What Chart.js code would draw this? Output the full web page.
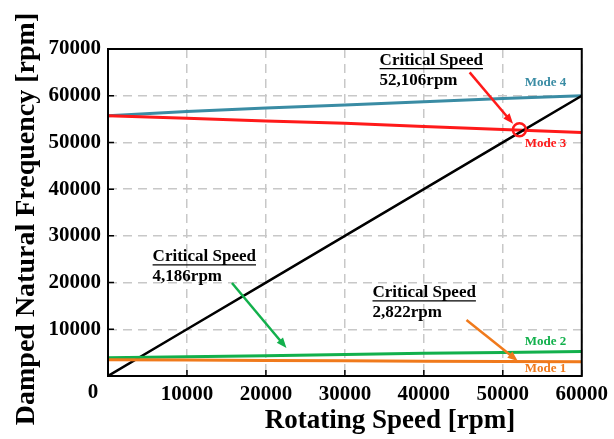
<!DOCTYPE html>
<html lang="en">
<head>
<meta charset="UTF-8">
<title>Campbell Diagram</title>
<script src="https://cdn.jsdelivr.net/npm/chart.js"></script>
<style>
    html, body { margin: 0; padding: 0; background: #fff; }
    #wrap { width: 614px; height: 439px; }
</style>
</head>
<body>
<div id="wrap"><canvas id="campbell" width="614" height="439"></canvas></div>
<script>
    // rotating speed [rpm]
    const speed = [0, 10000, 20000, 30000, 40000, 50000, 60000];
    // 1X excitation line
    const excitation = [0, 10000, 20000, 30000, 40000, 50000, 60000];
    // damped natural frequencies [rpm]
    const mode1 = [3500, 3400, 3300, 3250, 3150, 3100, 3050];
    const mode2 = [3900, 4100, 4350, 4600, 4850, 5050, 5250];
    const mode3 = [55700, 55150, 54600, 54100, 53400, 52750, 52150];
    const mode4 = [55700, 56600, 57350, 58000, 58700, 59400, 60000];

    const xTicks = [0, 10000, 20000, 30000, 40000, 50000, 60000];
    const yTicks = [0, 10000, 20000, 30000, 40000, 50000, 60000, 70000];

    // annotations (data units)
    const critPoint = { x: 52106, y: 52700 };
    const notes = [
        { x: 34400, y: 67500, title: 'Critical Speed', value: '52,106rpm', color: '#ff1a1a',
          from: [45800, 65000], to: [51300, 54000] },
        { x: 5650, y: 25500, title: 'Critical Speed', value: '4,186rpm', color: '#12b04c',
          from: [15700, 19900], to: [22600, 6000] },
        { x: 33500, y: 17800, title: 'Critical Speed', value: '2,822rpm', color: '#f07a1c',
          from: [45400, 12000], to: [51900, 3200] }
    ];
    const modeLabels = [
        { text: 'Mode 4', x: 55400, y: 62900, color: '#3a8ca4' },
        { text: 'Mode 3', x: 55400, y: 49700, color: '#ff1a1a' },
        { text: 'Mode 2', x: 55400, y: 7300, color: '#12b04c' },
        { text: 'Mode 1', x: 55400, y: 1500, color: '#f07a1c' }
    ];

    const toXY = ys => speed.map((s, i) => ({ x: s, y: ys[i] }));
    const serif = "'Liberation Serif', 'Times New Roman', serif";

    function arrow(ctx, x1, y1, x2, y2, color) {
        const a = Math.atan2(y2 - y1, x2 - x1);
        const head = 11;
        ctx.save();
        ctx.strokeStyle = color;
        ctx.fillStyle = color;
        ctx.lineWidth = 2.5;
        ctx.beginPath();
        ctx.moveTo(x1, y1);
        ctx.lineTo(x2 - Math.cos(a) * head * 0.8, y2 - Math.sin(a) * head * 0.8);
        ctx.stroke();
        ctx.beginPath();
        ctx.moveTo(x2, y2);
        ctx.lineTo(x2 - head * Math.cos(a - 0.38), y2 - head * Math.sin(a - 0.38));
        ctx.lineTo(x2 - head * Math.cos(a + 0.38), y2 - head * Math.sin(a + 0.38));
        ctx.closePath();
        ctx.fill();
        ctx.restore();
    }

    const extras = {
        id: 'extras',
        afterDatasetsDraw(chart) {
            const ctx = chart.ctx;
            const xs = chart.scales.x, ys = chart.scales.y;
            const a = chart.chartArea;
            const px = v => xs.getPixelForValue(v);
            const py = v => ys.getPixelForValue(v);

            // frame
            ctx.save();
            ctx.strokeStyle = '#000';
            ctx.lineWidth = 2;
            ctx.strokeRect(a.left, a.top, a.right - a.left, a.bottom - a.top);
            // inward ticks
            ctx.lineWidth = 1.5;
            ctx.beginPath();
            xTicks.forEach(t => { ctx.moveTo(px(t), a.bottom); ctx.lineTo(px(t), a.bottom - 6); });
            yTicks.forEach(t => { ctx.moveTo(a.left, py(t)); ctx.lineTo(a.left + 6, py(t)); });
            ctx.stroke();
            ctx.restore();

            // critical speed circle
            ctx.save();
            ctx.strokeStyle = '#ff1a1a';
            ctx.lineWidth = 2.5;
            ctx.beginPath();
            ctx.arc(px(critPoint.x), py(critPoint.y), 6.5, 0, Math.PI * 2);
            ctx.stroke();
            ctx.restore();

            // notes
            ctx.save();
            ctx.fillStyle = '#000';
            ctx.strokeStyle = '#000';
            ctx.textBaseline = 'middle';
            ctx.textAlign = 'left';
            notes.forEach(n => {
                const x = px(n.x), y = py(n.y);
                ctx.font = 'bold 17px ' + serif;
                ctx.fillText(n.title, x, y);
                const w = ctx.measureText(n.title).width;
                ctx.lineWidth = 1.2;
                ctx.beginPath();
                ctx.moveTo(x, y + 8);
                ctx.lineTo(x + w, y + 8);
                ctx.stroke();
                ctx.fillText(n.value, x, y + 20);
                arrow(ctx, px(n.from[0]), py(n.from[1]), px(n.to[0]), py(n.to[1]), n.color);
            });
            ctx.restore();

            // mode labels
            ctx.save();
            ctx.font = 'bold 13px ' + serif;
            ctx.textAlign = 'center';
            ctx.textBaseline = 'middle';
            modeLabels.forEach(m => {
                ctx.fillStyle = m.color;
                ctx.fillText(m.text, px(m.x), py(m.y));
            });
            ctx.restore();

            // origin label and axis titles
            ctx.save();
            ctx.fillStyle = '#000';
            ctx.textAlign = 'center';
            ctx.textBaseline = 'middle';
            ctx.font = 'bold 21px ' + serif;
            ctx.fillText('0', a.left - 15, a.bottom + 17);
            ctx.font = 'bold 27px ' + serif;
            ctx.fillText('Rotating Speed [rpm]', 390, 421);
            ctx.translate(27, 219);
            ctx.rotate(-Math.PI / 2);
            ctx.font = 'bold 28px ' + serif;
            ctx.fillText('Damped Natural Frequency [rpm]', 0, 0);
            ctx.restore();
        }
    };

    const line = (data, color, width) => ({
        data: data,
        showLine: true,
        borderColor: color,
        borderWidth: width,
        pointRadius: 0,
        fill: false,
        tension: 0
    });

    new Chart(document.getElementById('campbell'), {
        type: 'scatter',
        data: {
            datasets: [
                line(toXY(mode1), '#f07a1c', 3),
                line(toXY(mode2), '#12b04c', 3),
                line(toXY(excitation), '#000000', 2.5),
                line(toXY(mode3), '#ff1a1a', 3),
                line(toXY(mode4), '#3a8ca4', 3)
            ]
        },
        options: {
            responsive: false,
            animation: false,
            layout: { padding: { top: 49, right: 28, left: 0, bottom: 0 } },
            plugins: { legend: { display: false }, tooltip: { enabled: false } },
            scales: {
                x: {
                    type: 'linear',
                    min: 0,
                    max: 60000,
                    afterBuildTicks: s => { s.ticks = xTicks.map(v => ({ value: v })); },
                    afterFit: s => { s.height = 63; },
                    grid: { color: '#c8c8c8', lineWidth: 1.5, drawTicks: false },
                    border: { display: false, dash: [9, 6] },
                    ticks: {
                        padding: 6,
                        maxRotation: 0,
                        color: '#000',
                        font: { family: serif, size: 21, weight: 'bold' },
                        callback: v => v === 0 ? '' : String(v)
                    }
                },
                y: {
                    type: 'linear',
                    min: 0,
                    max: 70000,
                    afterBuildTicks: s => { s.ticks = yTicks.map(v => ({ value: v })); },
                    afterFit: s => { s.width = 108; },
                    grid: { color: '#c8c8c8', lineWidth: 1.5, drawTicks: false },
                    border: { display: false, dash: [9, 6] },
                    ticks: {
                        padding: 7,
                        color: '#000',
                        font: { family: serif, size: 21, weight: 'bold' },
                        callback: v => v === 0 ? '' : String(v)
                    }
                }
            }
        },
        plugins: [extras]
    });
</script>
</body>
</html>
